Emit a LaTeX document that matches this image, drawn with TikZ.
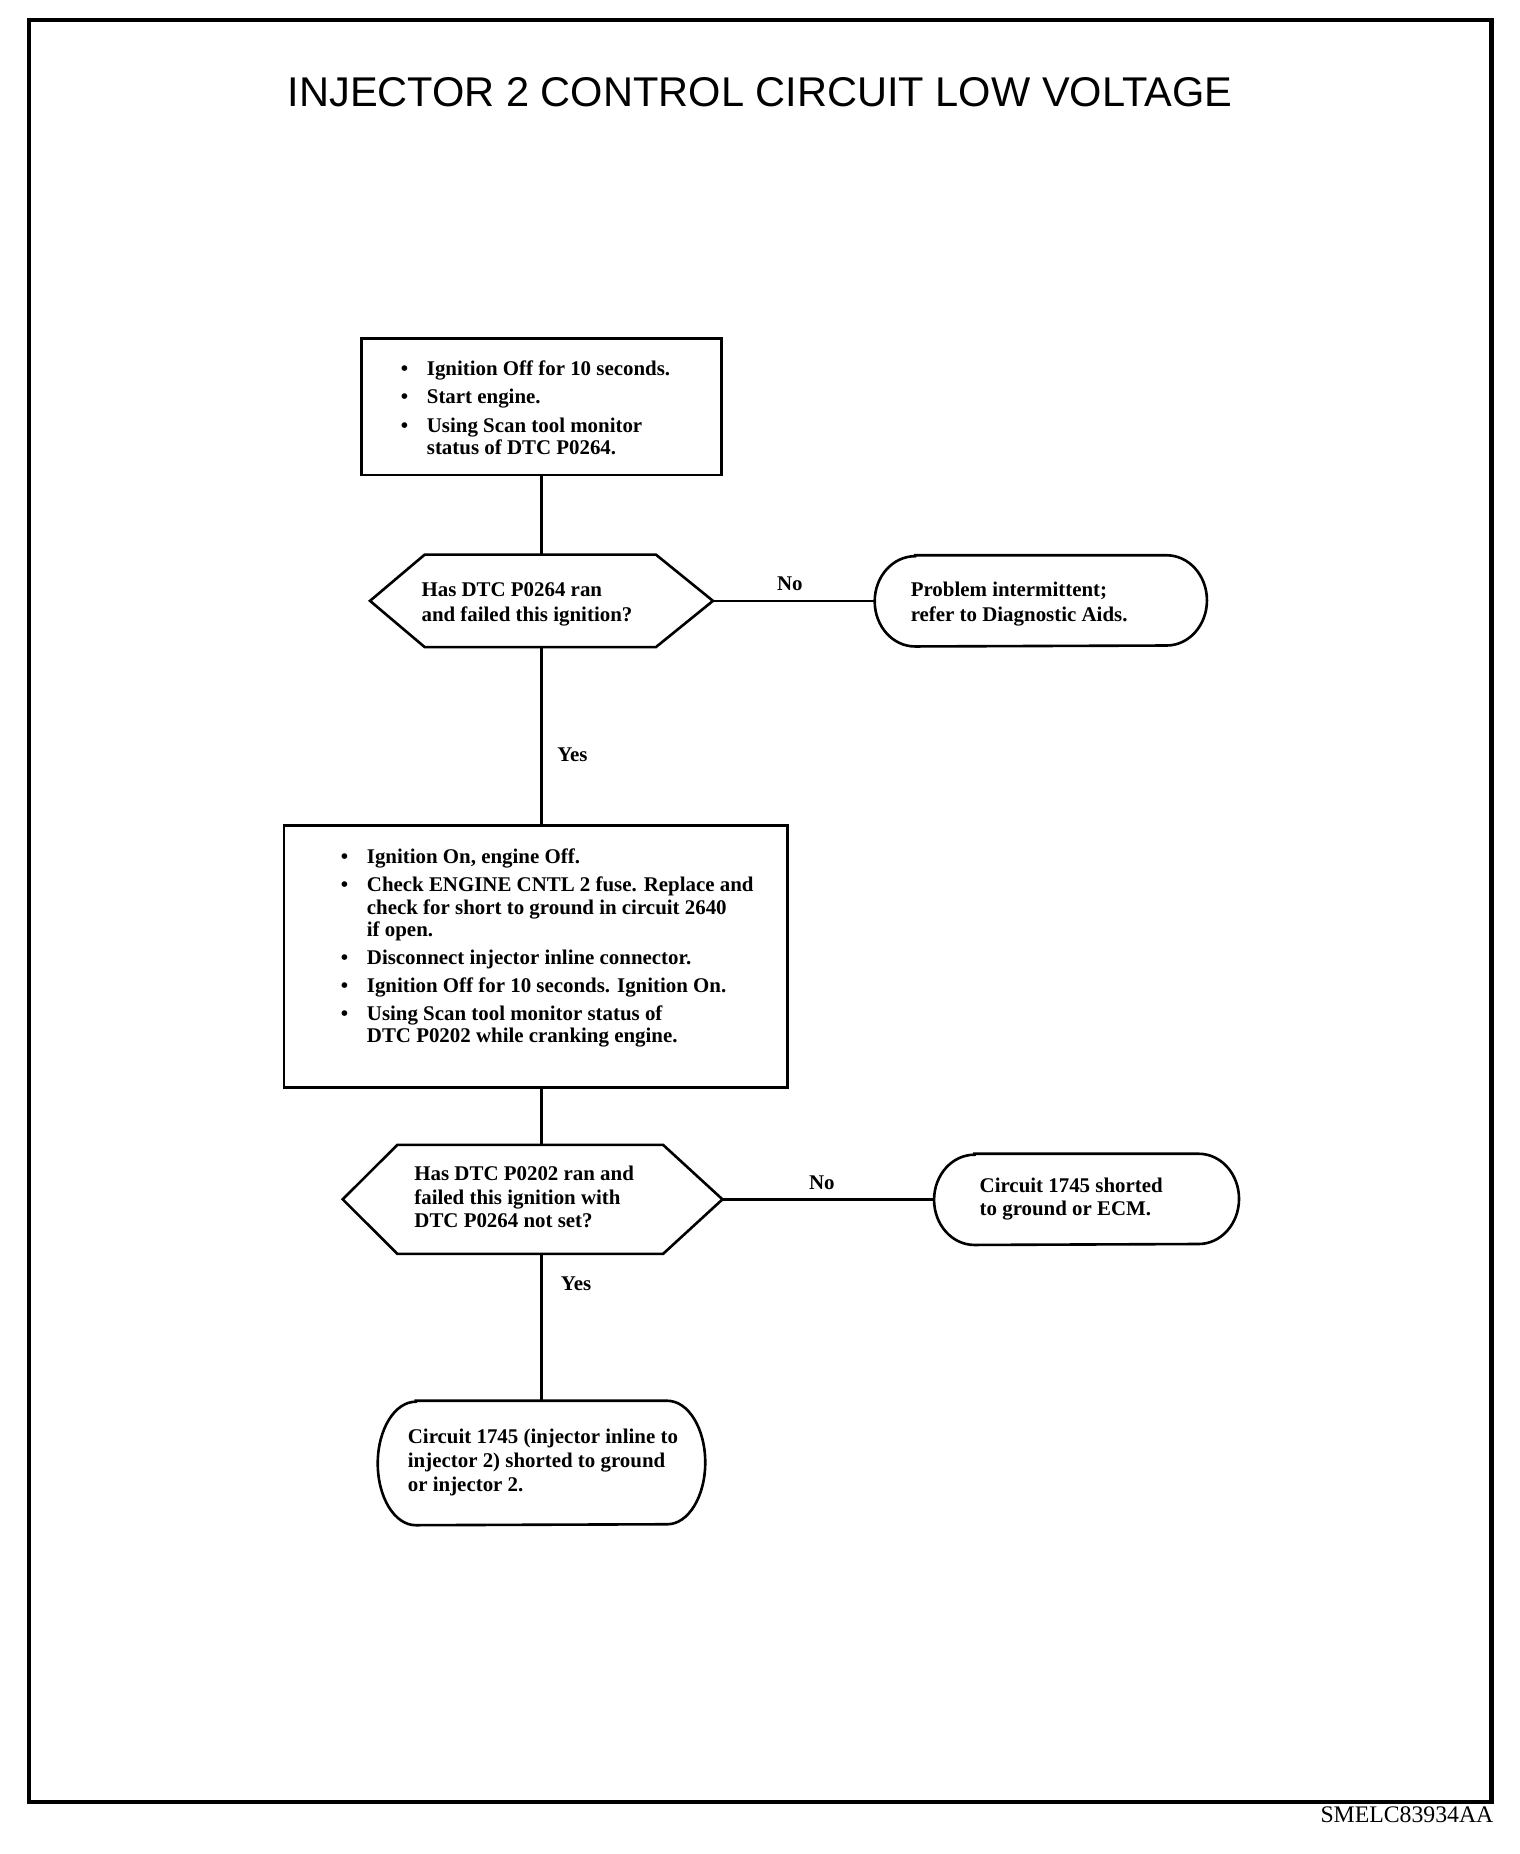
\documentclass[tikz,border=0pt]{standalone}
\usepackage{fontspec}
\setmainfont{Liberation Serif}
\newfontfamily\titlefont{Liberation Sans}
\usetikzlibrary{calc}
\newcommand{\bodyfont}{\fontsize{8.8}{9.5}\selectfont\bfseries}
\newcommand{\plainfont}{\fontsize{8.8}{10}\selectfont\bfseries}
\newcommand{\widefont}{\fontsize{8.8}{10.5}\selectfont\bfseries}
\newcommand{\bul}{\makebox[11pt][l]{\textbullet}}
\tikzset{
  conn/.style={line width=1pt},
  outline/.style={line width=1.1pt},
  boxnode/.style={draw, line width=1.1pt, inner sep=0pt, font=\bodyfont},
  hexnode/.style={inner sep=0pt, font=\plainfont},
  termnode/.style={inner sep=0pt, font=\plainfont},
  lbl/.style={inner sep=0pt, font=\plainfont, anchor=base west},
}
\begin{document}
\begin{tikzpicture}[x=0.5pt,y=-0.5pt]
\useasboundingbox (0,0) rectangle (1280,1561.3);
% frame
\draw[line width=1.7pt] (24.5,17) rectangle (1256,1517.5);
% title
\node[anchor=base, inner sep=0pt, font=\titlefont\fontsize{17.5}{20}\selectfont] (title) at (640,90) {INJECTOR 2 CONTROL CIRCUIT LOW VOLTAGE};
% box 1
\node[boxnode, minimum width=151.5pt, minimum height=57.5pt] (b1) at (456,342.5)
 {\makebox[151.5pt][l]{\hspace*{16.5pt}\begin{tabular}{@{}l@{}l@{}}\noalign{\vskip 3pt}
 \bul & Ignition Off for 10 seconds.\\[2.5pt]
 \bul & Start engine.\\[2.5pt]
 \bul & Using Scan tool monitor\\
      & status of DTC P0264.
 \end{tabular}}};
% decision 1
\node[hexnode, font=\widefont, minimum width=144pt, minimum height=38.5pt] (d1) at (456,506)
 {\makebox[144pt][l]{\hspace*{21.5pt}\begin{tabular}{@{}l@{}}\noalign{\vskip 2.5pt}
 Has DTC P0264 ran\\
 and failed this ignition?
 \end{tabular}}};
\draw[outline] (d1.west) -- ($(d1.north west)+(46,0)$) -- ($(d1.north east)+(-48,0)$) -- (d1.east) -- ($(d1.south east)+(-48,0)$) -- ($(d1.south west)+(46,0)$) -- cycle;
% terminal 1
\node[termnode, font=\widefont, minimum width=139.5pt, minimum height=38pt] (t1) at (876.5,506)
 {\makebox[139.5pt][l]{\hspace*{15pt}\begin{tabular}{@{}l@{}}\noalign{\vskip 2.5pt}
 Problem intermittent;\\
 refer to Diagnostic Aids.
 \end{tabular}}};
\draw[outline] ($(t1.north west)+(34,0)$) -- ($(t1.north east)+(-34,0)$) arc[start angle=90,end angle=-90,x radius=17pt,y radius=19pt] -- ($(t1.south west)+(34,0)$) arc[start angle=270,end angle=90,x radius=17pt,y radius=19pt] -- cycle;
% box 2
\node[boxnode, minimum width=212pt, minimum height=110.5pt] (b2) at (451,805.5)
 {\makebox[212pt][l]{\hspace*{24pt}\begin{tabular}{@{}l@{}l@{}}
 \bul & Ignition On, engine Off.\\[2.25pt]
 \bul & Check ENGINE CNTL 2 fuse. Replace and\\
      & check for short to ground in circuit 2640\\
      & if open.\\[2.25pt]
 \bul & Disconnect injector inline connector.\\[2.25pt]
 \bul & Ignition Off for 10 seconds. Ignition On.\\[2.25pt]
 \bul & Using Scan tool monitor status of\\
      & DTC P0202 while cranking engine.\\[6.5pt]
 \end{tabular}}};
% decision 2
\node[hexnode, minimum width=159.5pt, minimum height=45.5pt] (d2) at (448.5,1010)
 {\makebox[159.5pt][l]{\hspace*{30pt}\begin{tabular}{@{}l@{}}
 Has DTC P0202 ran and\\
 failed this ignition with\\
 DTC P0264 not set?
 \end{tabular}}};
\draw[outline] (d2.west) -- ($(d2.north west)+(46,0)$) -- ($(d2.north east)+(-50,0)$) -- (d2.east) -- ($(d2.south east)+(-50,0)$) -- ($(d2.south west)+(46,0)$) -- cycle;
% terminal 2
\node[termnode, minimum width=128pt, minimum height=38pt] (t2) at (915,1010)
 {\makebox[128pt][l]{\hspace*{19pt}\begin{tabular}{@{}l@{}}
 Circuit 1745 shorted\\
 to ground or ECM.
 \end{tabular}}};
\draw[outline] ($(t2.north west)+(34,0)$) -- ($(t2.north east)+(-34,0)$) arc[start angle=90,end angle=-90,x radius=17pt,y radius=19pt] -- ($(t2.south west)+(34,0)$) arc[start angle=270,end angle=90,x radius=17pt,y radius=19pt] -- cycle;
% terminal 3
\node[termnode, minimum width=137.5pt, minimum height=52pt] (t3) at (456,1232)
 {\makebox[137.5pt][l]{\hspace*{12.5pt}\begin{tabular}{@{}l@{}}
 Circuit 1745 (injector inline to\\
 injector 2) shorted to ground\\
 or injector 2.
 \end{tabular}}};
\draw[outline] ($(t3.north west)+(32,0)$) -- ($(t3.north east)+(-32,0)$) arc[start angle=90,end angle=-90,x radius=16pt,y radius=26pt] -- ($(t3.south west)+(32,0)$) arc[start angle=270,end angle=90,x radius=16pt,y radius=26pt] -- cycle;
% connectors
\draw[conn] (b1.south) -- (d1.north);
\draw[conn] (d1.east) -- (t1.west);
\draw[conn] (d1.south) -- (d1.south |- b2.north);
\draw[conn] (b2.south -| d1.south) -- (d2.north -| d1.south);
\draw[conn] (d2.east) -- (t2.west);
\draw[conn] (d2.south -| t3.north) -- (t3.north);
% labels
\node[lbl] (no1) at (654,497) {No};
\node[lbl] (yes1) at (469,641) {Yes};
\node[lbl] (no2) at (681,1002) {No};
\node[lbl] (yes2) at (472,1087) {Yes};
% code
\node[anchor=base east, inner sep=0pt, font=\fontsize{10}{12}\selectfont] (code) at (1258,1535) {SMELC83934AA};
\end{tikzpicture}
\end{document}
